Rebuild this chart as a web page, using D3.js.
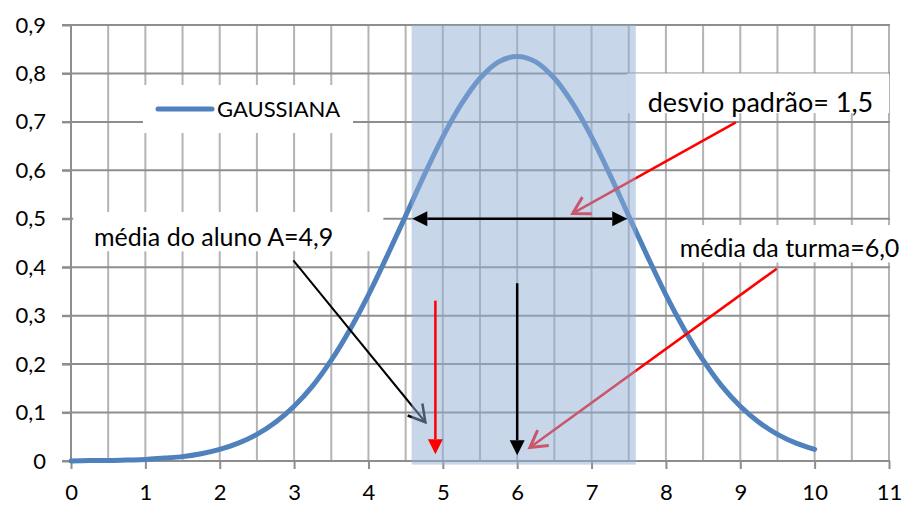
<!DOCTYPE html>
<html>
<head>
<meta charset="utf-8">
<script src="https://cdn.jsdelivr.net/npm/d3@7/dist/d3.min.js"></script>
<style>
  html, body { margin: 0; padding: 0; background: #fff; }
  svg { display: block; }
  text { font-family: Lato, "Open Sans", sans-serif; fill: #000; }
</style>
</head>
<body>
<svg id="chart" width="923" height="506"></svg>
<script>
// Curve samples (x, y)
const xValues = [0, 0.25, 0.5, 0.75, 1, 1.25, 1.5, 1.75, 2, 2.25, 2.5, 2.75, 3, 3.25, 3.5, 3.75,
                 4, 4.25, 4.5, 4.75, 5, 5.25, 5.5, 5.75, 6, 6.25, 6.5, 6.75, 7, 7.25, 7.5, 7.75,
                 8, 8.25, 8.5, 8.75, 9, 9.25, 9.5, 9.75, 10];
const yValues = [0.000, 0.001, 0.001, 0.002, 0.003, 0.006, 0.009, 0.015, 0.024, 0.037, 0.055, 0.080,
                 0.113, 0.155, 0.208, 0.271, 0.343, 0.423, 0.506, 0.590, 0.669, 0.737, 0.790, 0.824,
                 0.835, 0.824, 0.790, 0.737, 0.669, 0.590, 0.506, 0.423, 0.343, 0.271, 0.208, 0.155,
                 0.113, 0.080, 0.055, 0.037, 0.024];
const seriesName = "GAUSSIANA";

// Axis ticks
const xTicks = [0, 1, 2, 3, 4, 5, 6, 7, 8, 9, 10, 11];
const xTickLabels = ["0", "1", "2", "3", "4", "5", "6", "7", "8", "9", "10", "11"];
const yTicks = [0, 0.1, 0.2, 0.3, 0.4, 0.5, 0.6, 0.7, 0.8, 0.9];
const yTickLabels = ["0", "0,1", "0,2", "0,3", "0,4", "0,5", "0,6", "0,7", "0,8", "0,9"];
const xMinorGrid = [0.5, 1, 1.5, 2, 2.5, 3, 3.5, 4, 4.5, 5, 5.5, 6, 6.5, 7, 7.5, 8, 8.5, 9, 9.5, 10, 10.5, 11];

// Statistics marked on the chart
const mediaTurma = 6.0;
const mediaAluno = 4.9;
const desvioSpan = [4.59, 7.48];      // double arrow at y = 0.5
const bandX = [4.58, 7.595];          // shaded band
const bandY = [-0.0075, 0.9];

// Annotation texts: box [x0, x1, y0, y1] and text anchor in data units
const notes = [
  { text: "desvio padrão= 1,5",   box: [7.48, 11.0, 0.718, 0.80], at: [7.756, 0.7205], size: 27 },
  { text: "média do aluno A=4,9", box: [0.03, 4.2, 0.433, 0.514], at: [0.31, 0.4435], size: 25 },
  { text: "média da turma=6,0",   box: [8.04, 11.5, 0.410, 0.487], at: [8.186, 0.4215], size: 25 }
];

// Pointer arrows: [from, to] in data units
const pointerDesvio = [[8.94, 0.699], [6.746, 0.511]];
const pointerAluno  = [[2.99, 0.414], [4.766, 0.080]];
const pointerTurma  = [[9.49, 0.397], [6.171, 0.0277]];
const arrowAlunoY = [0.331, 0.014];
const arrowTurmaY = [0.367, 0.012];

const svg = d3.select("#chart");
const x = d3.scaleLinear().domain([0, 11]).range([71, 889]);
const y = d3.scaleLinear().domain([0, 0.9]).range([461, 25]);

svg.append("rect").attr("width", 923).attr("height", 506).attr("fill", "#fff");

// Gridlines
const grid = svg.append("g");
grid.selectAll("line.v").data(xMinorGrid).join("line")
  .attr("x1", d => x(d)).attr("x2", d => x(d))
  .attr("y1", y(0)).attr("y2", y(0.9))
  .attr("stroke", "#b4b4b4").attr("stroke-width", 2);
grid.selectAll("line.h").data(yTicks.slice(1)).join("line")
  .attr("x1", x(0) - 9).attr("x2", x(11) + 1)
  .attr("y1", d => y(d)).attr("y2", d => y(d))
  .attr("stroke", "#8e8e8e").attr("stroke-width", 2);

// Axes
const yAxis = d3.axisLeft(y).tickValues(yTicks)
  .tickFormat((d, i) => yTickLabels[i]).tickSize(9).tickPadding(16);
const xAxis = d3.axisBottom(x).tickValues(xTicks)
  .tickFormat((d, i) => xTickLabels[i]).tickSize(8).tickPadding(15.5);

const gy = svg.append("g").attr("transform", `translate(${x(0)},0)`).call(yAxis);
const gx = svg.append("g").attr("transform", `translate(0,${y(0)})`).call(xAxis);
[gx, gy].forEach(g => {
  g.select(".domain").remove();
  g.selectAll("line").attr("stroke", "#8e8e8e").attr("stroke-width", 2);
  g.selectAll("text").style("font-family", "Lato, sans-serif").style("font-size", "22px").attr("fill", "#000");
});
svg.append("line").attr("x1", x(0)).attr("x2", x(0)).attr("y1", y(0) + 1).attr("y2", y(0.9) - 1)
  .attr("stroke", "#8e8e8e").attr("stroke-width", 2);
svg.append("line").attr("x1", x(0) - 9).attr("x2", x(11) + 1).attr("y1", y(0)).attr("y2", y(0))
  .attr("stroke", "#8e8e8e").attr("stroke-width", 2);

// Legend box
const legend = svg.append("g");
legend.append("rect").attr("x", 143).attr("y", 85).attr("width", 210).attr("height", 48).attr("fill", "#fff");
legend.append("line").attr("x1", 158).attr("x2", 212).attr("y1", 109).attr("y2", 109)
  .attr("stroke", "#4f81bd").attr("stroke-width", 5).attr("stroke-linecap", "round");
legend.append("text").attr("x", 217).attr("y", 116.5).style("font-size", "22px").text(seriesName);

// Annotation boxes
svg.append("g").selectAll("rect").data(notes).join("rect")
  .attr("x", d => x(d.box[0])).attr("width", d => x(d.box[1]) - x(d.box[0]))
  .attr("y", d => y(d.box[3])).attr("height", d => y(d.box[2]) - y(d.box[3]))
  .attr("fill", "#fff");

// Curve
const pts = xValues.map((v, i) => [v, yValues[i]]);
svg.append("path").datum(pts)
  .attr("d", d3.line().x(d => x(d[0])).y(d => y(d[1])).curve(d3.curveCatmullRom.alpha(0.5)))
  .attr("fill", "none").attr("stroke", "#4f81bd").attr("stroke-width", 5)
  .attr("stroke-linecap", "round").attr("stroke-linejoin", "round");

// Arrow helpers (pixel space)
function openArrow(g, p0, p1, color, width) {
  const [x0, y0] = [x(p0[0]), y(p0[1])];
  const [x1, y1] = [x(p1[0]), y(p1[1])];
  const ang = Math.atan2(y0 - y1, x0 - x1);
  const len = 19, spread = Math.PI / 6;
  g.append("line").attr("x1", x0).attr("y1", y0).attr("x2", x1).attr("y2", y1)
    .attr("stroke", color).attr("stroke-width", width);
  const a1 = [x1 + len * Math.cos(ang + spread), y1 + len * Math.sin(ang + spread)];
  const a2 = [x1 + len * Math.cos(ang - spread), y1 + len * Math.sin(ang - spread)];
  g.append("path").attr("d", `M${a1[0]},${a1[1]}L${x1},${y1}L${a2[0]},${a2[1]}`)
    .attr("fill", "none").attr("stroke", color).attr("stroke-width", width + 0.5)
    .attr("stroke-linejoin", "miter");
}
function solidArrow(g, x0, y0, x1, y1, color, width) {
  const ang = Math.atan2(y0 - y1, x0 - x1);
  const len = 15, half = 7.5;
  const bx = x1 + len * Math.cos(ang), by = y1 + len * Math.sin(ang);
  g.append("line").attr("x1", x0).attr("y1", y0).attr("x2", bx).attr("y2", by)
    .attr("stroke", color).attr("stroke-width", width);
  const px = -Math.sin(ang) * half, py = Math.cos(ang) * half;
  g.append("path").attr("d", `M${x1},${y1}L${bx + px},${by + py}L${bx - px},${by - py}Z`)
    .attr("fill", color);
}

// Pointers under the band
const under = svg.append("g");
openArrow(under, pointerDesvio[0], pointerDesvio[1], "#ff0000", 2.5);
openArrow(under, pointerAluno[0], pointerAluno[1], "#000000", 2);
openArrow(under, pointerTurma[0], pointerTurma[1], "#ff0000", 2.5);

// Shaded band
svg.append("rect")
  .attr("x", x(bandX[0])).attr("width", x(bandX[1]) - x(bandX[0]))
  .attr("y", y(bandY[1])).attr("height", y(bandY[0]) - y(bandY[1]))
  .attr("fill", "rgb(145,173,213)").attr("fill-opacity", 0.5);

// Arrows above the band
const over = svg.append("g");
solidArrow(over, x(mediaAluno), y(arrowAlunoY[0]), x(mediaAluno), y(arrowAlunoY[1]), "#ff0000", 2.5);
solidArrow(over, x(mediaTurma), y(arrowTurmaY[0]), x(mediaTurma), y(arrowTurmaY[1]), "#000000", 2.5);
{
  const yy = y(0.5), xa = x(desvioSpan[0]), xb = x(desvioSpan[1]);
  const len = 15, half = 7.5;
  over.append("line").attr("x1", xa + len).attr("x2", xb - len).attr("y1", yy).attr("y2", yy)
    .attr("stroke", "#000").attr("stroke-width", 2.5);
  over.append("path").attr("d", `M${xa},${yy}L${xa + len},${yy - half}L${xa + len},${yy + half}Z`).attr("fill", "#000");
  over.append("path").attr("d", `M${xb},${yy}L${xb - len},${yy - half}L${xb - len},${yy + half}Z`).attr("fill", "#000");
}

// Annotation texts
svg.append("g").selectAll("text").data(notes).join("text")
  .attr("x", d => x(d.at[0])).attr("y", d => y(d.at[1]))
  .style("font-size", d => d.size + "px").text(d => d.text);
</script>
</body>
</html>
